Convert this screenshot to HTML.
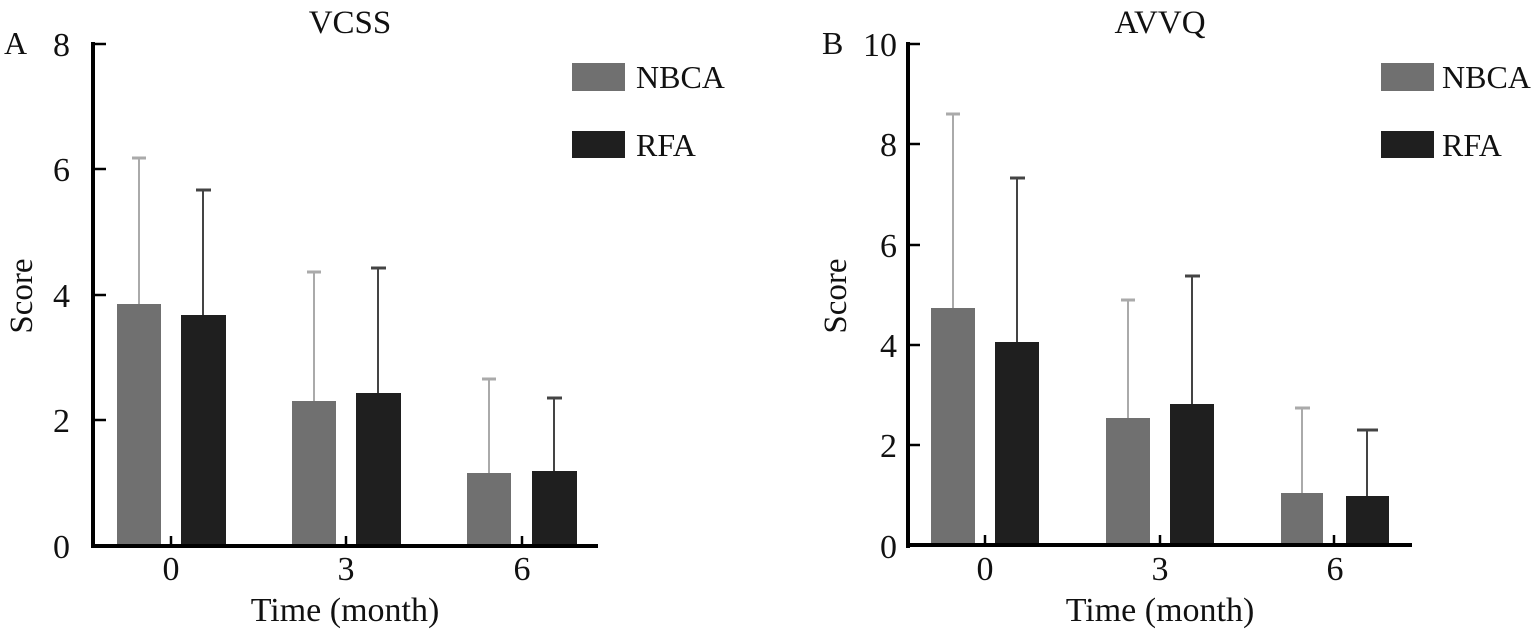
<!DOCTYPE html>
<html><head><meta charset="utf-8"><style>
html,body{margin:0;padding:0;background:#fff;}
svg{display:block;}
text{font-family:"Liberation Serif","Noto Serif CJK SC",serif;fill:#111;}
</style></head><body>
<svg width="1537" height="639" viewBox="0 0 1537 639" xmlns="http://www.w3.org/2000/svg">
<!-- Panel A -->
<text x="4" y="54" font-size="32">A</text>
<text x="350" y="33" font-size="33" text-anchor="middle">VCSS</text>
<g font-size="34" text-anchor="end">
<text x="70" y="56">8</text>
<text x="70" y="181">6</text>
<text x="70" y="307">4</text>
<text x="70" y="432">2</text>
<text x="70" y="558">0</text>
</g>
<text transform="translate(32,296) rotate(-90)" font-size="33" text-anchor="middle">Score</text>
<text x="345" y="621" font-size="34" text-anchor="middle">Time (month)</text>
<g font-size="34" text-anchor="middle">
<text x="171" y="580">0</text><text x="346" y="580">3</text><text x="522" y="580">6</text>
</g>
<g>
<line x1="139" y1="304" x2="139" y2="158" stroke="#aaa" stroke-width="2"/><line x1="132" y1="158" x2="146" y2="158" stroke="#aaa" stroke-width="3"/>
<line x1="203" y1="315" x2="203" y2="190" stroke="#444" stroke-width="2"/><line x1="196" y1="190" x2="211" y2="190" stroke="#444" stroke-width="3"/>
<line x1="314" y1="401" x2="314" y2="272" stroke="#aaa" stroke-width="2"/><line x1="307" y1="272" x2="321" y2="272" stroke="#aaa" stroke-width="3"/>
<line x1="378" y1="393" x2="378" y2="268" stroke="#444" stroke-width="2"/><line x1="371" y1="268" x2="386" y2="268" stroke="#444" stroke-width="3"/>
<line x1="489" y1="473" x2="489" y2="379" stroke="#aaa" stroke-width="2"/><line x1="482" y1="379" x2="496" y2="379" stroke="#aaa" stroke-width="3"/>
<line x1="554" y1="471" x2="554" y2="398" stroke="#444" stroke-width="2"/><line x1="547" y1="398" x2="562" y2="398" stroke="#444" stroke-width="3"/>
<rect x="117" y="304" width="44" height="242" fill="#707070"/>
<rect x="181" y="315" width="45" height="231" fill="#1f1f1f"/>
<rect x="292" y="401" width="44" height="145" fill="#707070"/>
<rect x="356" y="393" width="45" height="153" fill="#1f1f1f"/>
<rect x="467" y="473" width="44" height="73" fill="#707070"/>
<rect x="532" y="471" width="45" height="75" fill="#1f1f1f"/>
</g>
<line x1="93" y1="42" x2="93" y2="548" stroke="#000" stroke-width="4"/>
<line x1="91" y1="546" x2="598" y2="546" stroke="#000" stroke-width="4"/>
<g stroke="#000" stroke-width="2.5">
<line x1="93" y1="44" x2="106" y2="44"/><line x1="93" y1="169" x2="106" y2="169"/><line x1="93" y1="295" x2="106" y2="295"/><line x1="93" y1="420" x2="106" y2="420"/>
<line x1="171" y1="546" x2="171" y2="536"/><line x1="346" y1="546" x2="346" y2="536"/><line x1="522" y1="546" x2="522" y2="536"/>
</g>
<rect x="572" y="63" width="53" height="28" fill="#707070"/>
<rect x="572" y="131" width="53" height="27" fill="#1f1f1f"/>
<text x="636" y="88" font-size="32">NBCA</text>
<text x="636" y="156" font-size="32">RFA</text>

<!-- Panel B -->
<text x="822" y="54" font-size="32">B</text>
<text x="1160" y="33" font-size="33" text-anchor="middle">AVVQ</text>
<g font-size="34" text-anchor="end">
<text x="897" y="56">10</text>
<text x="897" y="156">8</text>
<text x="897" y="257">6</text>
<text x="897" y="357">4</text>
<text x="897" y="457">2</text>
<text x="897" y="558">0</text>
</g>
<text transform="translate(846,296) rotate(-90)" font-size="33" text-anchor="middle">Score</text>
<text x="1160" y="621" font-size="34" text-anchor="middle">Time (month)</text>
<g font-size="34" text-anchor="middle">
<text x="985" y="580">0</text><text x="1160" y="580">3</text><text x="1335" y="580">6</text>
</g>
<g>
<line x1="953" y1="308" x2="953" y2="114" stroke="#aaa" stroke-width="2"/><line x1="946" y1="114" x2="960" y2="114" stroke="#aaa" stroke-width="3"/>
<line x1="1017" y1="342" x2="1017" y2="178" stroke="#444" stroke-width="2"/><line x1="1010" y1="178" x2="1025" y2="178" stroke="#444" stroke-width="3"/>
<line x1="1128" y1="418" x2="1128" y2="300" stroke="#aaa" stroke-width="2"/><line x1="1121" y1="300" x2="1135" y2="300" stroke="#aaa" stroke-width="3"/>
<line x1="1192" y1="404" x2="1192" y2="276" stroke="#444" stroke-width="2"/><line x1="1185" y1="276" x2="1200" y2="276" stroke="#444" stroke-width="3"/>
<line x1="1302" y1="493" x2="1302" y2="408" stroke="#aaa" stroke-width="2"/><line x1="1295" y1="408" x2="1310" y2="408" stroke="#aaa" stroke-width="3"/>
<line x1="1367" y1="496" x2="1367" y2="430" stroke="#444" stroke-width="2"/><line x1="1357" y1="430" x2="1378" y2="430" stroke="#444" stroke-width="3"/>
<rect x="931" y="308" width="44" height="238" fill="#707070"/>
<rect x="995" y="342" width="44" height="204" fill="#1f1f1f"/>
<rect x="1106" y="418" width="44" height="128" fill="#707070"/>
<rect x="1170" y="404" width="44" height="142" fill="#1f1f1f"/>
<rect x="1281" y="493" width="42" height="53" fill="#707070"/>
<rect x="1346" y="496" width="43" height="50" fill="#1f1f1f"/>
</g>
<line x1="908" y1="42" x2="908" y2="548" stroke="#000" stroke-width="4"/>
<line x1="906" y1="545" x2="1412" y2="545" stroke="#000" stroke-width="4"/>
<g stroke="#000" stroke-width="2.5">
<line x1="908" y1="44" x2="920" y2="44"/><line x1="908" y1="144" x2="920" y2="144"/><line x1="908" y1="245" x2="920" y2="245"/><line x1="908" y1="345" x2="920" y2="345"/><line x1="908" y1="445" x2="920" y2="445"/>
<line x1="985" y1="545" x2="985" y2="535"/><line x1="1160" y1="545" x2="1160" y2="535"/><line x1="1334" y1="545" x2="1334" y2="535"/>
</g>
<rect x="1381" y="63" width="53" height="28" fill="#707070"/>
<rect x="1381" y="131" width="53" height="27" fill="#1f1f1f"/>
<text x="1442" y="88" font-size="32">NBCA</text>
<text x="1442" y="156" font-size="32">RFA</text>
</svg>
</body></html>
